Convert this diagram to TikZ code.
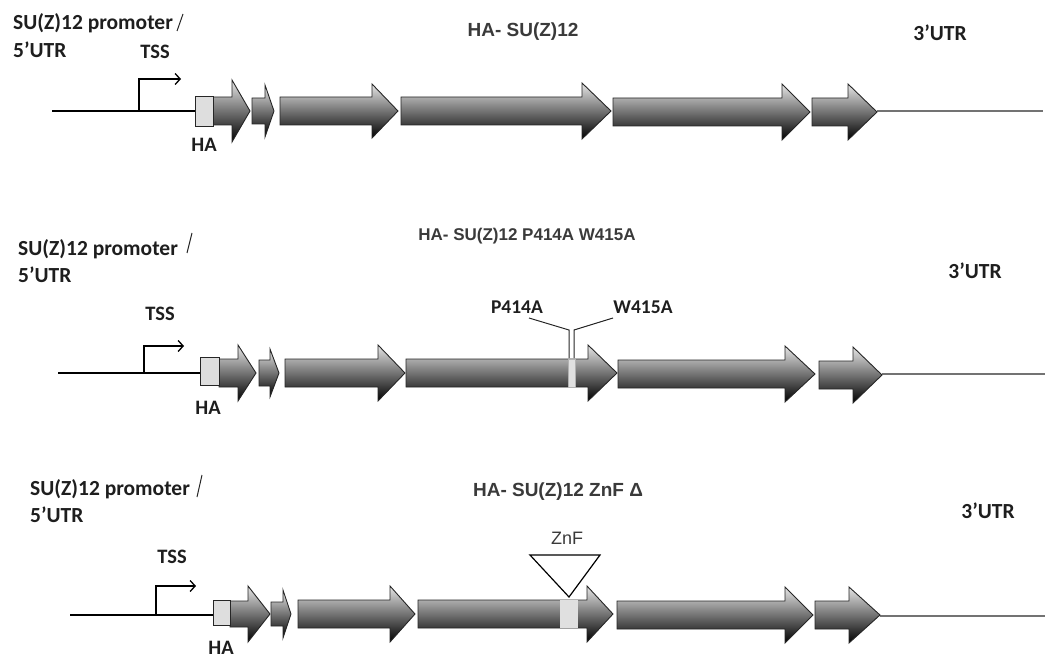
\documentclass[tikz,border=0pt]{standalone}
\usepackage{fontspec}
\setmainfont{Carlito}
\newfontfamily\helv{Liberation Sans}
\usetikzlibrary{arrows.meta}
\definecolor{txt}{HTML}{1E1E1E}
\definecolor{ttl}{HTML}{3A3A3A}
\tikzset{
  genefill/.style={top color=black!10, middle color=black!55, bottom color=black!100, draw=black!85, line width=0.9pt, line join=miter},
  habox/.style={fill=black!13, draw=black!85, line width=0.9pt},
  stripe/.style={fill=black!12, draw=black!30, line width=0.4pt},
  promline/.style={line width=2.6pt, black},
  utrline/.style={line width=1.3pt, black!55},
  tssarrow/.style={line width=1.3pt, -{Straight Barb[length=5pt,width=11pt,line width=1.3pt]}},
  lbl/.style={font=\fontsize{21.5}{22}\selectfont\bfseries, text=txt, inner sep=0pt},
  lbls/.style={font=\fontsize{20.5}{21}\selectfont\bfseries, text=txt, inner sep=0pt},
  lblm/.style={font=\fontsize{19.5}{20}\selectfont\bfseries, text=txt, inner sep=0pt},
  lbll/.style={lbl, anchor=west},
  ttlstyle/.style={font=\helv\bfseries\fontsize{19}{20}\selectfont, text=ttl, inner sep=0pt},
  thin/.style={line width=1pt, black!85},
}
\newcommand\genearr[6]{\path[genefill] (#1,#4-#5) -- (#2,#4-#5) -- (#2,#4-#6) -- (#3,#4) -- (#2,#4+#6) -- (#2,#4+#5) -- (#1,#4+#5) -- cycle;}
\begin{document}
\begin{tikzpicture}[x=1pt,y=-1pt]
\useasboundingbox (0,0) rectangle (1045,658);

% ---------------- Row 1 ----------------
\node[lbll] (p1) at (13,23) {SU(Z)12 promoter};
\draw[thin] (177,31) -- (183,14);
\node[lbll] (u1) at (13,50) {5’UTR};
\node[lbls] (t1) at (155,52) {TSS};
\node[ttlstyle] (h1) at (523,32) {HA- SU(Z)12};
\node[lbl] (r1) at (940,33) {3’UTR};
\coordinate (l1a) at (52,111);
\coordinate (l1b) at (195,111);
\draw[promline] (l1a) -- (l1b);
\coordinate (s1) at (139,111);
\coordinate (s1t) at (139,79);
\coordinate (s1e) at (181,79);
\draw[tssarrow] (s1) -- (s1t) -- (s1e);
\draw[utrline] (877,111) -- (1043,111);
\genearr{213}{232}{250}{111}{14}{31}
\genearr{252}{265}{274}{111}{13}{26}
\genearr{280}{372}{398}{111}{14}{27}
\genearr{401}{582}{611}{111}{14}{28}
\genearr{613}{782}{810}{112}{14}{28}
\genearr{812}{848}{877}{112}{14}{28}
\draw[habox] (195,96) rectangle (213,126);
\node[lbls] (ha1) at (204,145) {HA};

% ---------------- Row 2 ----------------
\node[lbll] (p2) at (18,249) {SU(Z)12 promoter};
\draw[thin] (187,253) -- (192,233);
\node[lbll] (u2) at (18,275) {5’UTR};
\node[lbls] (t2) at (160,314) {TSS};
\node[ttlstyle, font=\helv\bfseries\fontsize{17}{18}\selectfont] (h2) at (527,236) {HA- SU(Z)12 P414A W415A};
\node[lbl] (r2) at (975,271) {3’UTR};
\draw[promline] (58,373) -- (200,373);
\draw[tssarrow] (144,373) -- (144,346) -- (184,346);
\draw[utrline] (882,374) -- (1045,374);
\genearr{219}{238}{256}{373}{14}{28}
\genearr{259}{270}{279}{373}{13}{24}
\genearr{285}{378}{405}{373}{14}{28}
\genearr{406}{588}{617}{373}{14}{28}
\genearr{618}{785}{815}{374}{14}{28}
\genearr{819}{853}{882}{375}{14}{28}
\draw[stripe] (568,359) rectangle (575,387);
\draw[habox] (200,357) rectangle (219,385);
\node[lbls] (ha2) at (208,408) {HA};
\coordinate (m2a) at (569,358);
\coordinate (m2b) at (574,358);
\draw[thin] (m2a) -- (569,330) -- (529,318);
\draw[thin] (m2b) -- (574,330) -- (613,318);
\node[lblm] (pa) at (517,307) {P414A};
\node[lblm] (wa) at (643,307) {W415A};

% ---------------- Row 3 ----------------
\node[lbll] (p3) at (30,489) {SU(Z)12 promoter};
\draw[thin] (197,497) -- (202,475);
\node[lbll] (u3) at (30,515) {5’UTR};
\node[lbls] (t3) at (172,557) {TSS};
\node[ttlstyle] (h3) at (558,492) {HA- SU(Z)12 ZnF Δ};
\node[lbl] (r3) at (988,511) {3’UTR};
\draw[promline] (70,615) -- (213,615);
\draw[tssarrow] (156,615) -- (156,586) -- (196,586);
\draw[utrline] (880,616) -- (1045,616);
\genearr{230}{248}{270}{614}{13}{28}
\genearr{271}{283}{291}{614}{12}{24}
\genearr{298}{390}{415}{614}{14}{28}
\genearr{418}{587}{613}{614}{14}{28}
\genearr{617}{785}{813}{615}{14}{28}
\genearr{815}{849}{880}{615}{14}{28}
\draw[stripe, draw=none] (560,600) rectangle (578,628);
\draw[habox] (213,600) rectangle (230,625);
\node[lbls] (ha3) at (221,648) {HA};
\node[font=\helv\fontsize{18}{19}\selectfont, text=ttl, inner sep=0pt] (znf) at (567,538) {ZnF};
\draw[line width=1.2pt, fill=white] (530,555) -- (600,555) -- (569,597) -- cycle;
\end{tikzpicture}
\end{document}
